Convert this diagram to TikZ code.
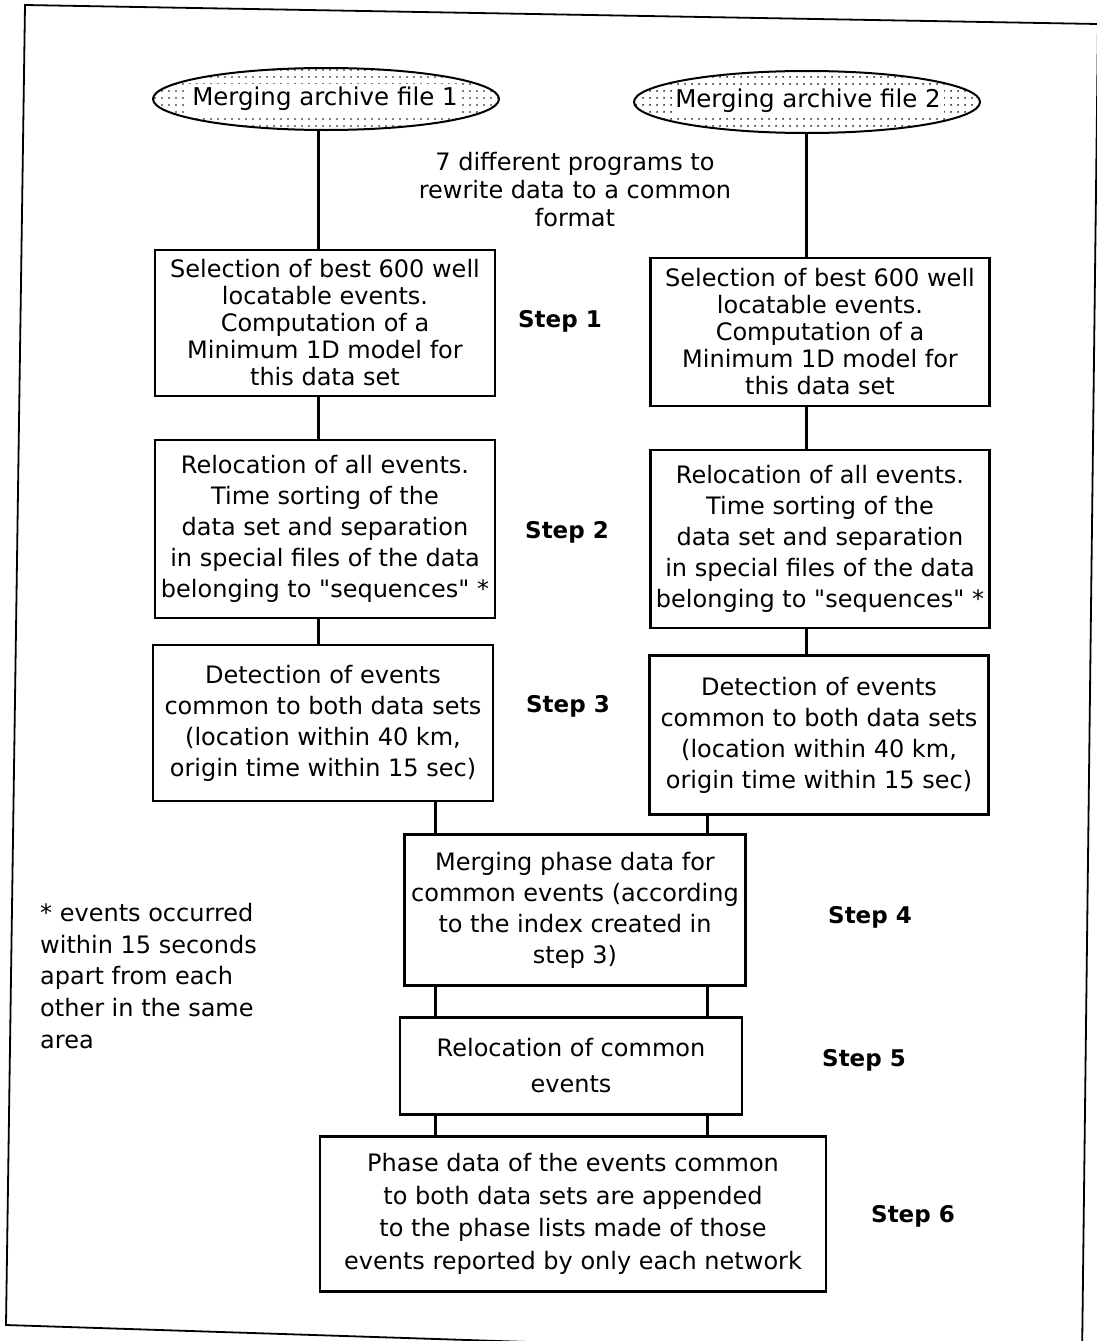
\documentclass[tikz,border=0pt]{standalone}
\usepackage{fontspec}
\setmainfont{DejaVu Sans}[Ligatures=TeXOff]
\usepackage{xcolor}
\usepackage{tikz}
\usetikzlibrary{shapes.geometric,patterns.meta}

\begin{document}
\begin{tikzpicture}[
x=1pt, y=-1pt,
kasten/.style={draw, line width=2.4pt, align=center, inner sep=0pt,
  font=\fontsize{24}{31}\selectfont},
archiv/.style={ellipse, draw, line width=2pt, inner sep=0pt,
  minimum width=346pt, minimum height=62pt,
  pattern={Dots[distance=6.5pt, radius=1pt]}},
archivtext/.style={fill=white, inner sep=3pt, font=\fontsize{24.5}{28}\selectfont},
schritt/.style={font=\fontsize{23}{26}\selectfont\bfseries},
verbinder/.style={line width=3pt},
]
\useasboundingbox (0,0) rectangle (1097,1341);
\clip (0,0) rectangle (1097,1341);
\fill[white] (0,0) rectangle (1097,1341);
\draw[line width=1.8pt] (25,5) -- (1098,24) -- (1082,1360) -- (6,1325) -- cycle;

\node[archiv] (arch1) at (326,99){};
\node[archivtext] (arch1txt) at (325,99){Merging archive file 1};
\node[archiv] (arch2) at (807,102){};
\node[archivtext] (arch2txt) at (808,101){Merging archive file 2};

\node[font=\fontsize{24}{28}\selectfont, align=center] (prog) at (575,190)
  {7 different programs to\\ rewrite data to a common\\ format};

\node[kasten, minimum width=340pt, minimum height=146pt,
  font=\fontsize{24}{27}\selectfont] (L1) at (325,323)
  {Selection of best 600 well\\ locatable events.\\ Computation of a\\ Minimum 1D model for\\ this data set};
\node[kasten, minimum width=339pt, minimum height=148pt,
  font=\fontsize{24}{27}\selectfont] (R1) at (820,332)
  {Selection of best 600 well\\ locatable events.\\ Computation of a\\ Minimum 1D model for\\ this data set};

\node[kasten, minimum width=340pt, minimum height=178pt] (L2) at (325,529)
  {Relocation of all events.\\ Time sorting of the\\ data set and separation\\ in special files of the data\\ belonging to "sequences" *};
\node[kasten, minimum width=339pt, minimum height=178pt] (R2) at (820,539)
  {Relocation of all events.\\ Time sorting of the\\ data set and separation\\ in special files of the data\\ belonging to "sequences" *};

\node[kasten, minimum width=340pt, minimum height=156pt] (L3) at (323,723)
  {Detection of events\\ common to both data sets\\ (location within 40 km,\\ origin time within 15 sec)};
\node[kasten, minimum width=339pt, minimum height=159pt] (R3) at (819,735)
  {Detection of events\\ common to both data sets\\ (location within 40 km,\\ origin time within 15 sec)};

\node[kasten, minimum width=341pt, minimum height=151pt] (B4) at (575,910)
  {Merging phase data for\\ common events (according\\ to the index created in\\ step 3)};
\node[kasten, minimum width=342pt, minimum height=97pt,
  font=\fontsize{24}{36}\selectfont] (B5) at (571,1066)
  {Relocation of common\\ events};
\node[kasten, minimum width=506pt, minimum height=155pt,
  font=\fontsize{24}{32.5}\selectfont] (B6) at (573,1214)
  {Phase data of the events common\\ to both data sets are appended\\ to the phase lists made of those\\ events reported by only each network};

\node[schritt] (step1) at (560,321){Step 1};
\node[schritt] (step2) at (567,532){Step 2};
\node[schritt] (step3) at (568,706){Step 3};
\node[schritt] (step4) at (870,917){Step 4};
\node[schritt] (step5) at (864,1060){Step 5};
\node[schritt] (step6) at (913,1216){Step 6};

\node[font=\fontsize{24}{31.7}\selectfont, align=left, anchor=north west,
  inner sep=0pt] (fussnote) at (40,903)
  {* events occurred\\ within 15 seconds\\ apart from each\\ other in the same\\ area};

\coordinate (spalteL) at (318,0);
\coordinate (spalteR) at (806,0);
\coordinate (innenL) at (435,0);
\coordinate (innenR) at (707,0);

\draw[verbinder] (arch1.south -| spalteL) -- (L1.north -| spalteL);
\draw[verbinder] (arch2.south -| spalteR) -- (R1.north -| spalteR);
\draw[verbinder] (L1.south -| spalteL) -- (L2.north -| spalteL);
\draw[verbinder] (R1.south -| spalteR) -- (R2.north -| spalteR);
\draw[verbinder] (L2.south -| spalteL) -- (L3.north -| spalteL);
\draw[verbinder] (R2.south -| spalteR) -- (R3.north -| spalteR);
\draw[verbinder] (L3.south -| innenL) -- (B4.north -| innenL);
\draw[verbinder] (R3.south -| innenR) -- (B4.north -| innenR);
\draw[verbinder] (B4.south -| innenL) -- (B5.north -| innenL);
\draw[verbinder] (B4.south -| innenR) -- (B5.north -| innenR);
\draw[verbinder] (B5.south -| innenL) -- (B6.north -| innenL);
\draw[verbinder] (B5.south -| innenR) -- (B6.north -| innenR);

\end{tikzpicture}
\end{document}
